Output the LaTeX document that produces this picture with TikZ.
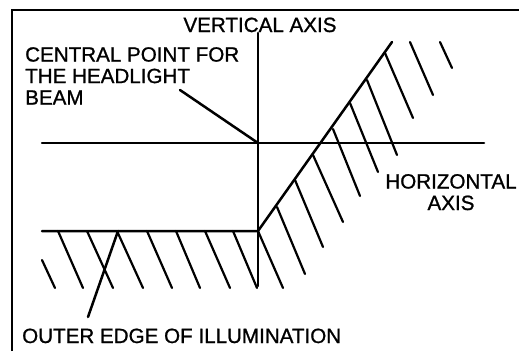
\documentclass[tikz,border=0pt]{standalone}
\usepackage{fontspec}
\setmainfont{Liberation Sans}
\newfontfamily\lblfont[FakeBold=1.0]{Liberation Sans}
\begin{document}
\begin{tikzpicture}[x=1pt,y=-1pt,
  ln/.style={line width=2.5pt,line cap=round},
  hatch/.style={line width=2.2pt,line cap=round},
  lbl/.style={inner sep=0pt,font=\lblfont\fontsize{20.6}{21.5}\selectfont}]
\useasboundingbox (0,0) rectangle (519,351);
% frame
\draw[ln,line cap=butt] (12,351) -- (12,10) -- (519,10);
% key points
\coordinate (o) at (258,143);
\coordinate (vtop) at (258,33);
\coordinate (vbot) at (258,286);
\coordinate (hl) at (42,143);
\coordinate (hr) at (484,143);
\coordinate (el) at (42,231);
\coordinate (ec) at (258,231);
\coordinate (et) at (392,42);
% axes
\draw[ln] (vtop) -- (vbot);
\draw[ln] (hl) -- (hr);
% edge of illumination
\draw[ln] (el) -- (ec) -- (et);
% hatching along the sloping edge
\foreach \a/\b/\c/\d in {258/231/283/288, 277/207/305/274, 295/180/323/247,
  313/155/343/222, 333/129/360/196, 350/103/378/172, 367/80/397/155,
  385/53/413/118, 410/42/433/95, 440/42/452/68}
  \draw[hatch] (\a,\b) -- (\c,\d);
% hatching below the horizontal edge
\foreach \a/\b/\c/\d in {42/260/55/288, 58/231/83/288, 87/231/113/288,
  117/231/143/288, 147/231/172/288, 176/231/200/288, 205/231/230/288,
  233/231/257/288}
  \draw[hatch] (\a,\b) -- (\c,\d);
% labels
\node[lbl,anchor=base] (vlab) at (260,32) {VERTICAL AXIS};
\node[lbl,anchor=north west,align=left] (clab) at (25,47)
  {CENTRAL POINT FOR\\THE HEADLIGHT\\BEAM};
\node[lbl,anchor=base,align=center] (hlab) at (451,210) {HORIZONTAL\\AXIS};
\node[lbl,anchor=base west] (olab) at (22,343) {OUTER EDGE OF ILLUMINATION};
% pointers
\coordinate (cp) at (180,90);
\coordinate (op) at (88,317);
\coordinate (oe) at (118,231);
\draw[ln] (cp) -- (o);
\draw[ln] (op) -- (oe);
\end{tikzpicture}
\end{document}
